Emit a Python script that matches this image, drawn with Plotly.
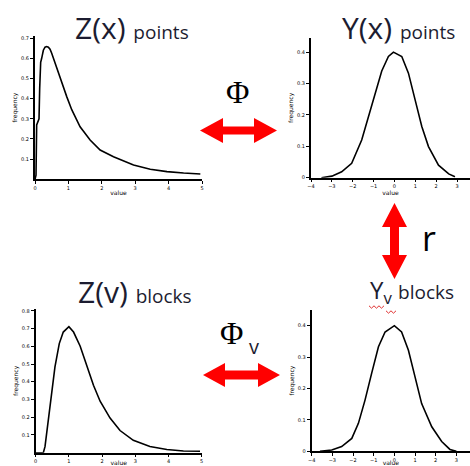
import plotly.graph_objects as go

W, H = 470, 466

# ---------------- data ----------------
zx_x = [0.0, 0.03, 0.05, 0.08, 0.12, 0.14, 0.17, 0.2, 0.25, 0.3, 0.35, 0.4, 0.45, 0.5,
        0.6, 0.75, 0.95, 1.1, 1.35, 1.65, 1.95, 2.35, 2.95, 3.45, 3.95, 4.45, 4.95]
zx_y = [0.0, 0.02, 0.27, 0.28, 0.30, 0.45, 0.58, 0.60, 0.64, 0.655, 0.658, 0.655, 0.645, 0.625,
        0.575, 0.51, 0.41, 0.345, 0.26, 0.195, 0.145, 0.112, 0.071, 0.05, 0.038, 0.031, 0.026]

yx_x = [-3.5, -3.0, -2.53, -2.05, -1.57, -1.25, -0.93, -0.61, -0.29, -0.05,
        0.35, 0.67, 0.99, 1.31, 1.63, 2.11, 2.6, 2.9]
yx_y = [0.0, 0.005, 0.019, 0.046, 0.12, 0.195, 0.27, 0.34, 0.386, 0.4,
        0.386, 0.333, 0.248, 0.163, 0.099, 0.04, 0.012, 0.003]

zv_x = [0.0, 0.23, 0.28, 0.38, 0.48, 0.58, 0.71, 0.83, 1.0, 1.14, 1.34, 1.54, 1.74,
        1.94, 2.24, 2.54, 2.94, 3.44, 3.95, 4.45, 4.95]
zv_y = [0.0, 0.0, 0.034, 0.184, 0.334, 0.484, 0.615, 0.68, 0.71, 0.68, 0.6, 0.49, 0.38,
        0.29, 0.195, 0.125, 0.07, 0.035, 0.018, 0.01, 0.008]

yv_x = [-3.6, -3.03, -2.55, -2.06, -1.74, -1.42, -1.1, -0.77, -0.45, 0.0,
        0.35, 0.68, 1.0, 1.32, 1.81, 2.29, 2.69, 3.0]
yv_y = [0.0, 0.004, 0.015, 0.041, 0.089, 0.163, 0.248, 0.333, 0.38, 0.4,
        0.38, 0.322, 0.237, 0.152, 0.078, 0.031, 0.006, 0.0]

z_xticks = [0, 1, 2, 3, 4, 5]
y_xticks = [-4, -3, -2, -1, 0, 1, 2, 3]
zx_yticks = [0.1, 0.2, 0.3, 0.4, 0.5, 0.6, 0.7]
zv_yticks = [0.1, 0.2, 0.3, 0.4, 0.5, 0.6, 0.7, 0.8]
y_yticks = [0, 0.1, 0.2, 0.3, 0.4]

titles = ["Z(x)", "Y(x)", "Z(v)", "Y"]
subtitles = ["points", "points", "blocks", "blocks"]


def px(x):
    return x / W


def py(y):
    return 1 - y / H


fig = go.Figure()
series = [(zx_x, zx_y), (yx_x, yx_y), (zv_x, zv_y), (yv_x, yv_y)]
for i, (xs, ys) in enumerate(series):
    sfx = "" if i == 0 else str(i + 1)
    fig.add_trace(go.Scatter(x=xs, y=ys, mode="lines", xaxis="x" + sfx, yaxis="y" + sfx,
                             line=dict(color="black", width=1.6), showlegend=False,
                             hoverinfo="skip"))

# axes: (x domain px, y domain px (top,bottom), x range, y range, xticks, yticks)
axes = [
    ((35, 202), (36.1, 179.3), [0, 5], [0, 0.71], z_xticks, zx_yticks),
    ((311, 470), (38, 177.7), [-4, 3.62], [0, 0.445], y_xticks, y_yticks),
    ((35.7, 201.7), (309, 452.7), [0, 5], [0, 0.81], z_xticks, zv_yticks),
    ((311.7, 470), (310, 451.3), [-4, 3.66], [0, 0.45], y_xticks, y_yticks),
]
tickfont = dict(family="DejaVu Sans", size=5, color="black")
titlefont = dict(family="DejaVu Sans", size=6, color="black")
lay = {}
for i, (xd, yd, xr, yr, xt, yt) in enumerate(axes):
    sfx = "" if i == 0 else str(i + 1)
    lay["xaxis" + sfx] = dict(domain=[px(xd[0]), px(xd[1])], range=xr, anchor="y" + sfx,
                              showline=True, linecolor="black", linewidth=1.5,
                              showgrid=False, zeroline=False, ticks="outside", ticklen=3,
                              tickwidth=1, tickcolor="black", tickvals=xt,
                              tickfont=tickfont, automargin=False,
                              title=dict(text="value", font=titlefont, standoff=1))
    lay["yaxis" + sfx] = dict(domain=[py(yd[1]), py(yd[0])], range=yr, anchor="x" + sfx,
                              showline=True, linecolor="black", linewidth=2,
                              showgrid=False, zeroline=False, ticks="outside", ticklen=3,
                              tickwidth=1, tickcolor="black", tickvals=yt,
                              tickfont=tickfont, automargin=False,
                              title=dict(text="frequency", font=titlefont, standoff=3))


def harrow(x1, x2, y, L, Hh, T):
    pts = [(x1, y), (x1 + L, y - Hh), (x1 + L, y - T), (x2 - L, y - T), (x2 - L, y - Hh),
           (x2, y), (x2 - L, y + Hh), (x2 - L, y + T), (x1 + L, y + T), (x1 + L, y + Hh)]
    return "M " + " L ".join(f"{px(a):.5f},{py(b):.5f}" for a, b in pts) + " Z"


def varrow(x, y1, y2, L, Hh, T):
    pts = [(x, y1), (x + Hh, y1 + L), (x + T, y1 + L), (x + T, y2 - L), (x + Hh, y2 - L),
           (x, y2), (x - Hh, y2 - L), (x - T, y2 - L), (x - T, y1 + L), (x - Hh, y1 + L)]
    return "M " + " L ".join(f"{px(a):.5f},{py(b):.5f}" for a, b in pts) + " Z"


red = "#ff0000"
shapes = [
    dict(type="path", xref="paper", yref="paper", path=harrow(200, 277, 130.5, 23, 12.5, 4),
         fillcolor=red, line=dict(width=0)),
    dict(type="path", xref="paper", yref="paper", path=harrow(203, 280, 375, 22, 12, 4.5),
         fillcolor=red, line=dict(width=0)),
    dict(type="path", xref="paper", yref="paper", path=varrow(394.5, 203, 279, 24, 12.5, 4.5),
         fillcolor=red, line=dict(width=0)),
]


def squiggle(x0, x1, y, step=2.5, amp=1.2):
    pts = []
    x = x0
    k = 0
    while x <= x1:
        pts.append((x, y + (amp if k % 2 else -amp)))
        x += step
        k += 1
    return "M " + " L ".join(f"{px(a):.5f},{py(b):.5f}" for a, b in pts)


shapes.append(dict(type="path", xref="paper", yref="paper", path=squiggle(369, 385, 307),
                   line=dict(color="#e03030", width=1)))
shapes.append(dict(type="path", xref="paper", yref="paper", path=squiggle(386, 397, 312),
                   line=dict(color="#e03030", width=1)))

sans = "Open Sans"
tcol = "#1c1c30"
ann = []


def title(x, y, big, small, bigsize=30, smallsize=19, sub=None):
    txt = big
    if sub:
        txt += f"<sub>{sub}</sub>"
    txt += f" <span style='font-size:{smallsize}px'>{small}</span>"
    ann.append(dict(x=px(x), y=py(y), xref="paper", yref="paper", xanchor="left",
                    yanchor="middle", showarrow=False, text=txt,
                    font=dict(family=sans, size=bigsize, color=tcol)))


title(73, 28, titles[0], subtitles[0])
title(340, 28, titles[1], subtitles[1])
title(76, 291, titles[2], subtitles[2])
title(368, 291, titles[3], subtitles[3], bigsize=24, smallsize=19, sub="v")


def label(x, y, text, family, size, color):
    ann.append(dict(x=px(x), y=py(y), xref="paper", yref="paper", xanchor="center",
                    yanchor="middle", showarrow=False, text=text,
                    font=dict(family=family, size=size, color=color)))


label(238, 92, "Φ", "Liberation Serif", 32, "black")
label(231, 333, "Φ", "Liberation Serif", 32, "black")
label(253.5, 346, "v", sans, 20, tcol)
label(429, 238, "r", sans, 34, "black")

fig.update_layout(width=W, height=H, margin=dict(l=0, r=0, t=0, b=0),
                  paper_bgcolor="white", plot_bgcolor="white",
                  shapes=shapes, annotations=ann, **lay)

fig.write_html("out.html", config={"displayModeBar": False},
               post_script="document.body.style.margin='0';document.body.style.overflow='hidden';")
